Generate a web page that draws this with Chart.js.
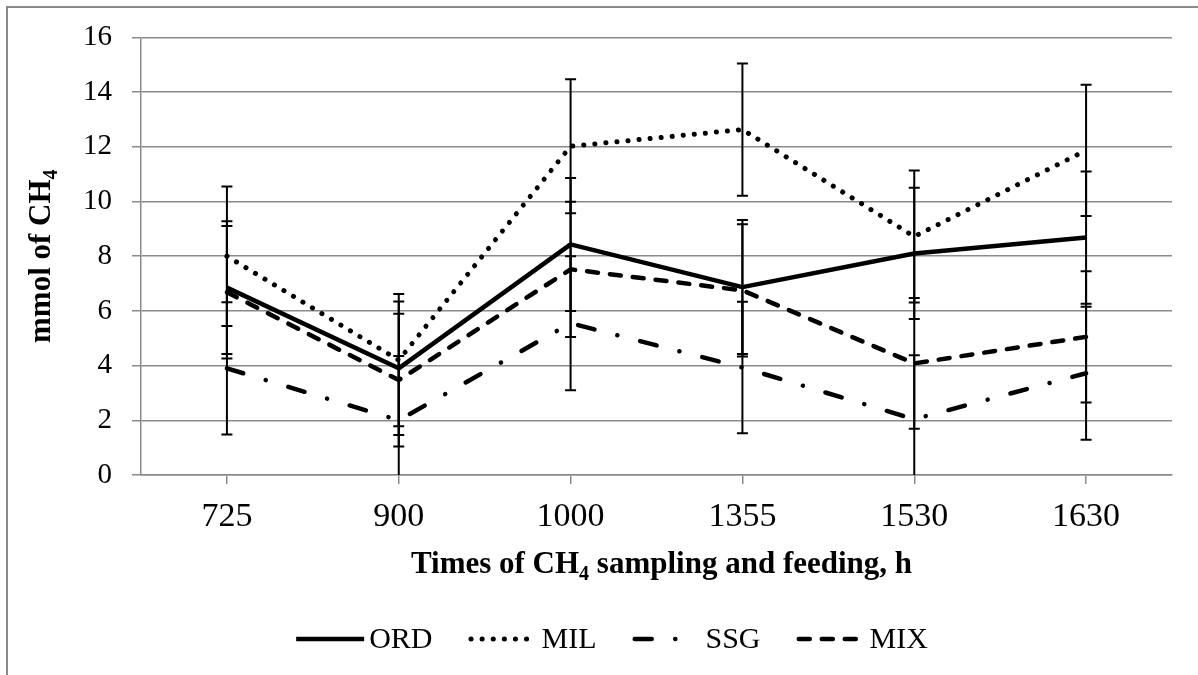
<!DOCTYPE html>
<html>
<head>
<meta charset="UTF-8">
<title>mmol of CH4</title>
<script src="https://cdn.jsdelivr.net/npm/chart.js"></script>
<style>
    html, body { margin: 0; padding: 0; background: #fff; }
</style>
</head>
<body>
<canvas id="ch4Chart" width="1198" height="675"></canvas>

<script>
    // sampling / feeding times (x categories)
    const times = ['725', '900', '1000', '1355', '1530', '1630'];

    // mean CH4 per treatment, mmol
    const ord = [6.85, 3.90, 8.43, 6.87, 8.10, 8.68];
    const mil = [8.00, 4.20, 12.02, 12.63, 8.72, 11.87];
    const ssg = [3.90, 2.00, 5.55, 3.93, 2.04, 3.72];
    const mix = [6.68, 3.47, 7.52, 6.75, 4.08, 5.05];

    // error bar half-lengths
    const ordErr = [2.43, 2.44, 2.43, 2.45, 2.40, 2.42];
    const milErr = [2.55, 2.42, 2.45, 2.42, 2.41, 2.40];
    const ssgErr = [2.42, 2.35, 2.45, 2.40, 2.34, 2.43];
    const mixErr = [2.42, 2.43, 2.47, 2.42, 2.39, 2.40];

    const yTicks = { min: 0, max: 16, step: 2 };

    const serif = '"Liberation Serif", "Times New Roman", serif';
    const gridGray = '#8a8a8a';

    // outer chart frame + white background
    const frame = {
        id: 'frame',
        beforeDraw(chart) {
            const ctx = chart.ctx;
            ctx.save();
            ctx.fillStyle = '#fff';
            ctx.fillRect(0, 0, chart.width, chart.height);
            ctx.strokeStyle = gridGray;
            ctx.lineWidth = 2;
            ctx.beginPath();
            ctx.moveTo(7, chart.height);
            ctx.lineTo(7, 7);
            ctx.lineTo(chart.width, 7);
            ctx.stroke();
            ctx.restore();
        }
    };

    // vertical error bars with caps, clipped at zero
    const errorBars = {
        id: 'errorBars',
        afterDatasetsDraw(chart) {
            const { ctx, scales: { x, y } } = chart;
            ctx.save();
            ctx.strokeStyle = '#000';
            ctx.lineWidth = 2;
            chart.data.datasets.forEach(ds => {
                ds.data.forEach((v, i) => {
                    const e = ds.errors[i];
                    const px = x.getPixelForValue(i);
                    const top = y.getPixelForValue(v + e);
                    const low = v - e;
                    const bottom = y.getPixelForValue(Math.max(low, 0));
                    ctx.beginPath();
                    ctx.moveTo(px, top);
                    ctx.lineTo(px, bottom);
                    ctx.moveTo(px - 5.5, top);
                    ctx.lineTo(px + 5.5, top);
                    if (low >= 0) {
                        ctx.moveTo(px - 5.5, bottom);
                        ctx.lineTo(px + 5.5, bottom);
                    }
                    ctx.stroke();
                });
            });
            ctx.restore();
        }
    };

    // legend drawn by hand so the dash patterns show in the samples
    const dashLegend = {
        id: 'dashLegend',
        afterDraw(chart) {
            const ctx = chart.ctx;
            const sample = 68, textGap = 5, itemGap = 36, cy = 639;
            ctx.save();
            ctx.font = '30px ' + serif;
            ctx.textBaseline = 'middle';
            ctx.fillStyle = '#000';
            const items = chart.data.datasets.map(ds => ({ ds, w: ctx.measureText(ds.label).width }));
            let total = 0;
            items.forEach((it, i) => { total += sample + textGap + it.w + (i ? itemGap : 0); });
            let xPos = 612 - total / 2;
            items.forEach(it => {
                const ds = it.ds;
                ctx.save();
                ctx.strokeStyle = ds.borderColor;
                ctx.lineWidth = ds.borderWidth;
                ctx.lineCap = ds.borderCapStyle;
                ctx.setLineDash(ds.borderDash);
                const pad = ds.borderCapStyle === 'round' ? ds.borderWidth / 2 : 0;
                ctx.beginPath();
                ctx.moveTo(xPos + pad, cy);
                ctx.lineTo(xPos + sample - pad, cy);
                ctx.stroke();
                ctx.restore();
                xPos += sample + textGap;
                ctx.fillText(ds.label, xPos, cy + 1);
                xPos += it.w + itemGap;
            });
            ctx.restore();
        }
    };

    // text with a subscript part, centred on (cx, baseline)
    function drawSubText(ctx, parts, cx, baseline, size) {
        const big = 'bold ' + size + 'px ' + serif;
        const small = 'bold ' + Math.round(size * 0.66) + 'px ' + serif;
        let total = 0;
        parts.forEach(p => {
            ctx.font = p[1] ? small : big;
            total += ctx.measureText(p[0]).width;
        });
        let xPos = cx - total / 2;
        parts.forEach(p => {
            ctx.font = p[1] ? small : big;
            ctx.fillText(p[0], xPos, baseline + (p[1] ? size * 0.22 : 0));
            xPos += ctx.measureText(p[0]).width;
        });
    }

    const axisTitles = {
        id: 'axisTitles',
        afterDraw(chart) {
            const ctx = chart.ctx;
            const area = chart.chartArea;
            ctx.save();
            ctx.fillStyle = '#000';
            ctx.textBaseline = 'alphabetic';
            ctx.textAlign = 'left';
            drawSubText(ctx, [['Times of CH', false], ['4', true], [' sampling and feeding, h', false]],
                (area.left + area.right) / 2 + 5, 573, 31);
            ctx.translate(50, (area.top + area.bottom) / 2);
            ctx.rotate(-Math.PI / 2);
            drawSubText(ctx, [['mmol of CH', false], ['4', true]], 0, 0, 31);
            ctx.restore();
        }
    };

    function series(label, data, errors, width, dash, cap) {
        return {
            label: label,
            data: data,
            errors: errors,
            borderColor: '#000',
            backgroundColor: '#000',
            borderWidth: width,
            borderDash: dash,
            borderCapStyle: cap,
            borderJoinStyle: 'round',
            pointRadius: 0,
            pointHoverRadius: 0,
            tension: 0,
            fill: false
        };
    }

    new Chart(document.getElementById('ch4Chart'), {
        type: 'line',
        data: {
            labels: times,
            datasets: [
                series('ORD', ord, ordErr, 4.5, [], 'butt'),
                series('MIL', mil, milErr, 5, [0.1, 11], 'round'),
                series('SSG', ssg, ssgErr, 4.5, [17, 23.5, 0.1, 23.5], 'round'),
                series('MIX', mix, mixErr, 4.5, [11, 12], 'round')
            ]
        },
        options: {
            responsive: false,
            animation: false,
            layout: { padding: { left: 52, right: 26, top: 37, bottom: 72 } },
            plugins: {
                tooltip: { enabled: false },
                legend: { display: false }
            },
            scales: {
                x: {
                    offset: true,
                    afterFit(scale) { scale.height = 128; },
                    grid: {
                        drawOnChartArea: false,
                        drawTicks: true,
                        tickLength: 9,
                        color: gridGray,
                        lineWidth: 1.5
                    },
                    border: { color: gridGray, width: 1.5 },
                    ticks: {
                        color: '#000',
                        padding: 13,
                        maxRotation: 0,
                        font: { family: serif, size: 34 }
                    }
                },
                y: {
                    min: yTicks.min,
                    max: yTicks.max,
                    afterFit(scale) { scale.width = 89; },
                    grid: { color: gridGray, lineWidth: 1.5, tickLength: 9 },
                    border: { color: gridGray, width: 1.5 },
                    ticks: {
                        stepSize: yTicks.step,
                        color: '#000',
                        padding: 20,
                        font: { family: serif, size: 29 }
                    }
                }
            }
        },
        plugins: [frame, errorBars, dashLegend, axisTitles]
    });
</script>
</body>
</html>
